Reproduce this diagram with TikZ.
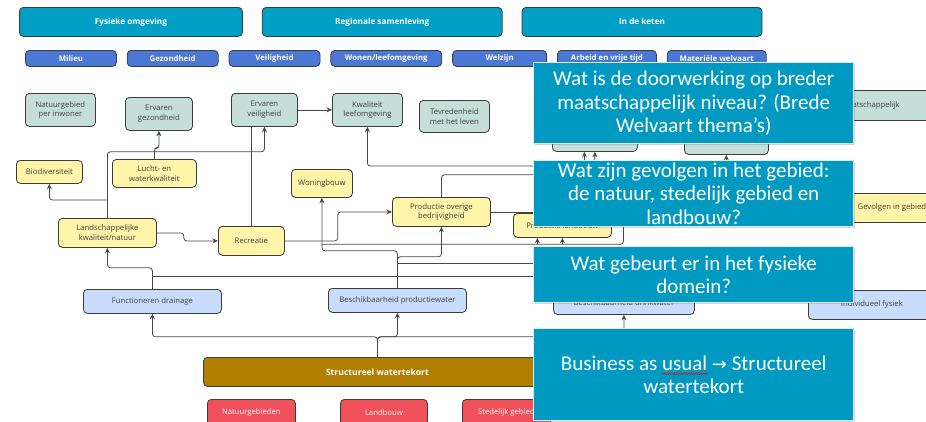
\documentclass[tikz,border=0pt]{standalone}
\usepackage{fontspec}
\setmainfont{Open Sans}
\newfontfamily\calloutfont{Carlito}
\newfontfamily\arrowfont{DejaVu Sans}
\usetikzlibrary{positioning, calc, shadows, arrows.meta, decorations.pathmorphing}
\definecolor{kopblauw}{RGB}{0,160,198}
\definecolor{themablauw}{RGB}{74,120,212}
\definecolor{effectgroen}{RGB}{197,222,215}
\definecolor{gevolggeel}{RGB}{255,244,168}
\definecolor{fysiekblauw}{RGB}{200,220,252}
\definecolor{oorzaakbruin}{RGB}{176,126,0}
\definecolor{gebiedrood}{RGB}{240,80,90}
\definecolor{vraagblauw}{RGB}{0,153,194}
\definecolor{vraagrand}{RGB}{222,236,241}
\definecolor{randgrijs}{RGB}{60,60,60}
\definecolor{lijngrijs}{RGB}{72,72,72}

\begin{document}
\begin{tikzpicture}[x=1pt, y=-1pt,
    vak/.style={rectangle, 
      rounded corners=4pt, 
      draw=randgrijs, 
      line width=0.8pt, 
      align=center, 
      inner sep=1pt, 
      text=black!75, 
      font=\fontsize{7.7}{9.8}\selectfont},
    kop/.style={vak, fill=kopblauw, text=white, minimum height=29pt, 
      font=\bfseries\fontsize{8.2}{9}\selectfont},
    thema/.style={vak, fill=themablauw, text=white, minimum height=16pt, 
      font=\bfseries\fontsize{7.8}{8}\selectfont},
    effect/.style={vak, fill=effectgroen},
    gevolg/.style={vak, fill=gevolggeel},
    fysiek/.style={vak, fill=fysiekblauw, minimum height=24pt},
    oorzaak/.style={vak, fill=oorzaakbruin, text=white, minimum height=29pt, 
      font=\bfseries\fontsize{8.6}{9}\selectfont},
    gebied/.style={vak, fill=gebiedrood, text=white, minimum height=26pt},
    vraag/.style={rectangle, 
      fill=vraagblauw, 
      draw=vraagrand, 
      line width=1.4pt, 
      text=white, 
      align=center, 
      inner sep=0pt, 
      minimum width=320pt, 
      font=\calloutfont\fontsize{21}{23.5}\selectfont, 
      drop shadow={shadow xshift=1pt, shadow yshift=-1pt, opacity=0.35, fill=gray}},
    pijl/.style={draw=lijngrijs, line width=0.8pt, rounded corners=3pt, 
      -{Stealth[length=5.5pt, width=5pt]}},
    lijn/.style={draw=lijngrijs, line width=0.8pt, rounded corners=3pt}]

  \clip (0,0) rectangle (926,421);
  \useasboundingbox (0,0) rectangle (926,421);

  % KOPPEN EN THEMA'S

  \node [kop, minimum width=223pt, anchor=north west] (fysiekeomg) at (19,7) {Fysieke omgeving};
  \node [kop, minimum width=240pt, right=19pt of fysiekeomg] (regio) {Regionale samenleving};
  \node [kop, minimum width=240pt, right=19pt of regio] (keten) {In de keten};

  \node [thema, minimum width=91pt, anchor=north west] (milieu) at (25,50) {Milieu};
  \node [thema, minimum width=91pt, right=10pt of milieu] (gezondheid) {Gezondheid};
  \node [thema, minimum width=91pt, right=10pt of gezondheid] (veiligheid) {Veiligheid};
  \node [thema, minimum width=111pt, right=10pt of veiligheid] (wonen) {Wonen/leefomgeving};
  \node [thema, minimum width=94pt, right=10pt of wonen] (welzijn) {Welzijn};
  \node [thema, minimum width=99pt, right=10pt of welzijn] (arbeid) {Arbeid en vrije tijd};
  \node [thema, minimum width=99pt, right=10pt of arbeid] (materieel) {Materiële welvaart};

  % EFFECTEN

  \node [effect, minimum width=70pt, minimum height=33pt, anchor=north west] (natinw) at (25,93) {Natuurgebied\\per inwoner};
  \node [effect, minimum width=67pt, minimum height=33pt, anchor=north west] (ervgez) at (125,97) {Ervaren\\gezondheid};
  \node [effect, minimum width=66pt, minimum height=33pt, anchor=north west] (ervveil) at (231,93) {Ervaren\\veiligheid};
  \node [effect, minimum width=70pt, minimum height=33pt, anchor=north west] (kwalleef) at (332,93) {Kwaliteit\\leefomgeving};
  \node [effect, minimum width=70pt, minimum height=32pt, anchor=north west] (tevreden) at (419,100) {Tevredenheid\\met het leven};
  \node [effect, minimum width=85pt, minimum height=33pt, anchor=north west] (arbpart) at (552,118) {\raisebox{-8pt}{arbeidsparticipatie}};
  \node [effect, minimum width=84pt, minimum height=33pt, anchor=north west] (inkomen) at (684,121) {\raisebox{-7pt}{Inkomen sector}};
  \node [effect, minimum width=130pt, minimum height=30pt, anchor=north west] (maatsch) at (805,90) {Maatschappelijk};

  % GEVOLGEN IN HET GEBIED

  \node [gevolg, minimum width=66pt, minimum height=23pt, anchor=north west] (biodiv) at (16,160) {Biodiversiteit};
  \node [gevolg, minimum width=84pt, minimum height=28pt, anchor=north west] (lucht) at (112,159) {Lucht- en\\waterkwaliteit};
  \node [gevolg, minimum width=98pt, minimum height=29pt, anchor=north west] (landsch) at (58,218) {Landschappelijke\\kwaliteit/natuur};
  \node [gevolg, minimum width=66pt, minimum height=29pt, anchor=north west] (recreatie) at (218,226) {Recreatie};
  \node [gevolg, minimum width=61pt, minimum height=28pt, anchor=north west] (woningbouw) at (291,169) {Woningbouw};
  \node [gevolg, minimum width=98pt, minimum height=29pt, anchor=north west] (prodov) at (392,197) {Productie overige\\bedrijvigheid};
  \node [gevolg, minimum width=98pt, minimum height=24pt, anchor=north west] (prodland) at (513,213) {Productie landbouw};
  \node [gevolg, minimum width=87pt, minimum height=29pt, anchor=north west] (gevolgen) at (848,193) {Gevolgen in gebied};

  % FYSIEK DOMEIN

  \node [fysiek, minimum width=138pt, anchor=north west] (drainage) at (83,289) {Functioneren drainage};
  \node [fysiek, minimum width=138pt, anchor=north west] (prodwater) at (328,288) {Beschikbaarheid productiewater};
  \node [fysiek, minimum width=141pt, anchor=north west] (drinkwater) at (553,290) {Beschikbaarheid drinkwater};
  \node [fysiek, minimum width=127pt, minimum height=29pt, anchor=north west] (individueel) at (808,290) {Individueel fysiek};

  % OORZAAK

  \node [oorzaak, minimum width=348pt, anchor=north west] (watertekort) at (203,357) {Structureel watertekort};
  \node [gebied, minimum width=88pt, anchor=north west] (natuurgeb) at (207,399) {Natuurgebieden};
  \node [gebied, minimum width=87pt, anchor=north west] (landbouw) at (340,399) {Landbouw};
  \node [gebied, minimum width=88pt, anchor=north west] (stedelijk) at (462,399) {Stedelijk gebied};

  % VERBINDINGEN

  \coordinate (verborgenA) at (610,166);
  \coordinate (verborgenB) at (594.5,200);
  \coordinate (verborgenC) at (726,190);

  \draw[pijl] (landsch.north) |- ($(ervveil.south) + (0,25)$) -- (ervveil.south);
  \draw[pijl] ($(landsch.north) + (0,-18)$) -| (biodiv.south);
  \draw[pijl] (lucht.north) -- ++(0,-11) -| (ervgez.south);
  \draw[pijl] (ervveil.east) -- (kwalleef.west);
  \draw[lijn] (recreatie.north) -- (recreatie.north |- ervveil.south);
  \draw[pijl] (landsch.east) -- ++(27,0) |- (recreatie.west);
  \draw[pijl] (recreatie.east) -- ++(53,0) |- (prodov.west);

  \draw[pijl] (drainage.north) |- ($(landsch.south) + (0,20)$) -- (landsch.south);
  \draw[lijn] ($(drainage.north) + (0,-13)$) -- ++(400,0);
  \draw[pijl] (prodwater.north) |- ($(prodov.south) + (0,30)$) -- (prodov.south);
  \draw[lijn] ($(prodwater.north) + (0,-25)$) -- ++(150,0);
  \draw[pijl] (prodwater.north) |- ($(woningbouw.south) + (0,53)$) -- (woningbouw.south);
  \draw[lijn] ($(woningbouw.south) + (0,46.5)$) -| ($(prodland.south) + (61,-25)$);
  \draw[pijl] ($(prodland.south) + (-25,6.5)$) -- ($(prodland.south) + (-25,0)$);
  \draw[pijl] ($(prodland.south) + (0,6.5)$) -- (prodland.south);

  \draw[pijl] (prodov.north) |- ($(arbpart.south) + (-10.5,23)$) -- ($(arbpart.south) + (-10.5,0)$);
  \draw[lijn] (prodov.east) -- ++(130,0);
  \draw[pijl] (verborgenA) -| (kwalleef.south);
  \draw[pijl] (verborgenB) -- (arbpart.south);
  \draw[pijl] (verborgenC) -- (inkomen.south);

  \draw[pijl] (watertekort.north) |- ($(drainage.south) + (0,23)$) -- (drainage.south);
  \draw[pijl] (watertekort.north) |- ($(prodwater.south) + (0,24)$) -- (prodwater.south);
  \draw[pijl] (watertekort.north) |- ($(drinkwater.south) + (0,22)$) -- (drinkwater.south);

  % VRAGEN

  \node [vraag, minimum height=81pt, anchor=north west] (vraagbreed) at (533,62) 
    {Wat is de doorwerking op breder\\maatschappelijk niveau? (Brede\\Welvaart thema’s)};
  \node [vraag, minimum height=66pt, anchor=north west] (vraaggebied) at (533,160) 
    {Wat zijn gevolgen in het gebied:\\de natuur, stedelijk gebied en\\landbouw?};
  \node [vraag, minimum height=56pt, anchor=north west] (vraagfysiek) at (533,246) 
    {Wat gebeurt er in het fysieke\\domein?};
  \node [vraag, minimum height=92pt, anchor=north west] (vraagbau) at (533,328) 
    {Business as usual {\arrowfont\fontsize{18}{23.5}\selectfont →} Structureel\\watertekort};
  \draw[red, line width=0.5pt, decorate, decoration={snake, segment length=2.4pt, amplitude=0.7pt}] 
    ($(vraagbau.center) + (-32,-1)$) -- ++(46,0);

\end{tikzpicture}
\end{document}
